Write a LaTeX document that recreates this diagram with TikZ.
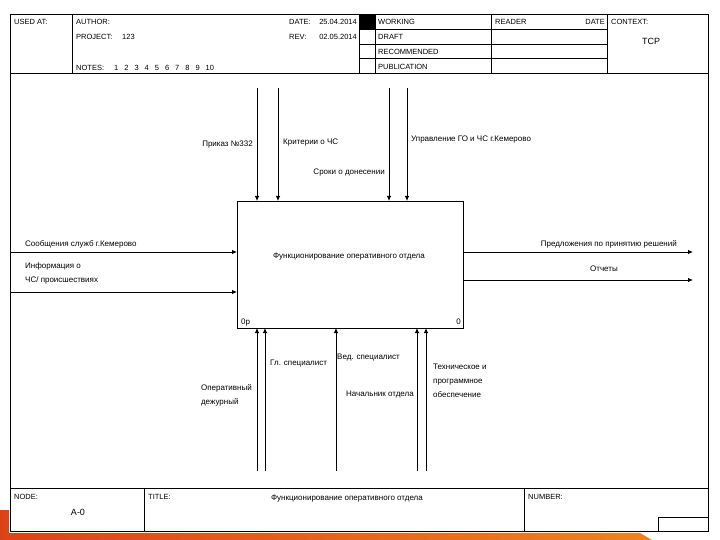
\documentclass[tikz,border=0pt]{standalone}
\usepackage{fontspec}
\setmainfont{Liberation Sans}
\definecolor{slidered}{HTML}{DC4319}
\definecolor{slideorange}{HTML}{F0821F}
\usetikzlibrary{arrows.meta,positioning,calc}

\begin{document}
\begin{tikzpicture}[x=1pt,y=-1pt,
  grid/.style={draw=black,line width=0.8pt},
  hd/.style={font=\fontsize{7.5}{9}\selectfont,inner sep=0pt},
  lbl/.style={font=\fontsize{8}{14}\selectfont,inner sep=0pt},
  arr/.style={line width=0.8pt,-{Latex[length=5pt,width=4.5pt]}}]
  \useasboundingbox (0,0) rectangle (720,540);
  % slide strip
  \shade[left color=slidered,right color=slideorange]
    (0,510) -- (9,510) -- (9,533) -- (640,533) -- (652,540) -- (0,540) -- cycle;
  % form
  \draw[grid] (10,14) rectangle (708,531);
  \draw[grid] (10,73) -- (708,73);
  \draw[grid] (10,488) -- (708,488);
  \draw[grid] (72,14) -- (72,73);
  \draw[grid] (359,14) -- (359,73);
  \draw[grid] (375,14) -- (375,73);
  \draw[grid] (491,14) -- (491,73);
  \draw[grid] (607,14) -- (607,73);
  \foreach \y in {29,44,58.5} \draw[grid] (359,\y) -- (607,\y);
  \fill (359,14) rectangle (375,29);
  \draw[grid] (144,488) -- (144,531);
  \draw[grid] (524,488) -- (524,531);
  \draw[grid] (658,531) -- (658,517) -- (708,517);
  % header texts
  \node[hd,anchor=base west] (usedat) at (14,25) {USED AT:};
  \node[hd,anchor=base west] (author) at (76,25) {AUTHOR:};
  \node[hd,anchor=base west] (project) at (76,40) {PROJECT:};
  \node[hd,anchor=base west] (projno) at (122,40) {123};
  \node[hd,anchor=base west] (notes) at (76,71) {NOTES:};
  \node[hd,anchor=base west] (noteno) at (114,71) {1\hskip6pt 2\hskip6pt 3\hskip6pt 4\hskip6pt 5\hskip6pt 6\hskip6pt 7\hskip6pt 8\hskip6pt 9\hskip6pt 10};
  \node[hd,anchor=base west] (date) at (289,25) {DATE:};
  \node[hd,anchor=base east] (dateval) at (357,25) {25.04.2014};
  \node[hd,anchor=base west] (rev) at (289,40) {REV:};
  \node[hd,anchor=base east] (revval) at (357,40) {02.05.2014};
  \node[hd,anchor=base west] (working) at (378,25) {WORKING};
  \node[hd,anchor=base west] (draft) at (378,40) {DRAFT};
  \node[hd,anchor=base west] (recom) at (378,55) {RECOMMENDED};
  \node[hd,anchor=base west] (public) at (378,70) {PUBLICATION};
  \node[hd,anchor=base west] (reader) at (495,25) {READER};
  \node[hd,anchor=base east] (rdate) at (605,25) {DATE};
  \node[hd,anchor=base west] (context) at (611,25) {CONTEXT:};
  \node[hd,font=\fontsize{9}{10}\selectfont] (ctxval) at (651,41) {TCP};
  % footer texts
  \node[hd,anchor=base west] (nodelbl) at (14,499) {NODE:};
  \node[lbl,font=\fontsize{9}{10}\selectfont] (nodeval) at (78,512) {A-0};
  \node[hd,anchor=base west] (titlelbl) at (148,499) {TITLE:};
  \node[lbl,anchor=base] (titleval) at (347,500) {Функционирование оперативного отдела};
  \node[hd,anchor=base west] (numberlbl) at (528,499) {NUMBER:};
  % function block
  \node[draw,line width=0.8pt,minimum width=226pt,minimum height=127pt,
        inner sep=0pt,outer sep=0pt] (fn) at (350,264.5) {};
  \node[lbl] (fntext) at (349,257) {Функционирование оперативного отдела};
  \node[lbl,anchor=base west] (fnnum) at (241,324) {0р};
  \node[lbl,anchor=base east] (fnno) at (461,324) {0};
  % controls
  \coordinate (ctlA) at (257,88);
  \coordinate (ctlB) at (278,88);
  \coordinate (ctlC) at (389,88);
  \coordinate (ctlD) at (407,88);
  \foreach \c in {ctlA,ctlB,ctlC,ctlD} \draw[arr] (\c) -- (\c |- fn.north);
  \node[lbl,anchor=base east] (prikaz) at (253,147) {Приказ №332};
  \node[lbl,anchor=base west] (krit) at (283,145) {Критерии о ЧС};
  \node[lbl,anchor=base east] (sroki) at (385,175) {Сроки о донесении};
  \node[lbl,anchor=base west] (uprav) at (411,142) {Управление ГО и ЧС г.Кемерово};
  % inputs
  \coordinate (inA) at (10,252);
  \coordinate (inB) at (10,292);
  \foreach \c in {inA,inB} \draw[arr] (\c) -- (\c -| fn.west);
  \node[lbl,anchor=base west] (soob) at (25,247) {Сообщения служб г.Кемерово};
  \node[lbl,anchor=base west,align=left] (info) at (25,282) {Информация о\\ЧС/ происшествиях};
  % outputs
  \coordinate (outA) at (693,252);
  \coordinate (outB) at (693,280);
  \foreach \c in {outA,outB} \draw[arr] (\c -| fn.east) -- (\c);
  \node[lbl,anchor=base east] (predl) at (677,247) {Предложения по принятию решений};
  \node[lbl,anchor=base] (otch) at (604,271) {Отчеты};
  % mechanisms
  \coordinate (mecA) at (257,471);
  \coordinate (mecB) at (265,471);
  \coordinate (mecC) at (336,471);
  \coordinate (mecD) at (417,471);
  \coordinate (mecE) at (426,471);
  \foreach \c in {mecA,mecB,mecC,mecD,mecE} \draw[arr] (\c) -- (\c |- fn.south);
  \node[lbl,anchor=base east,align=left] (oper) at (252,404) {Оперативный\\дежурный};
  \node[lbl,anchor=base west] (glsp) at (270,365) {Гл. специалист};
  \node[lbl,anchor=base west] (vedsp) at (337,359) {Вед. специалист};
  \node[lbl,anchor=base east] (nach) at (414,396) {Начальник отдела};
  \node[lbl,anchor=base west,align=left] (tech) at (433,397) {Техническое и\\программное\\обеспечение};
\end{tikzpicture}
\end{document}
